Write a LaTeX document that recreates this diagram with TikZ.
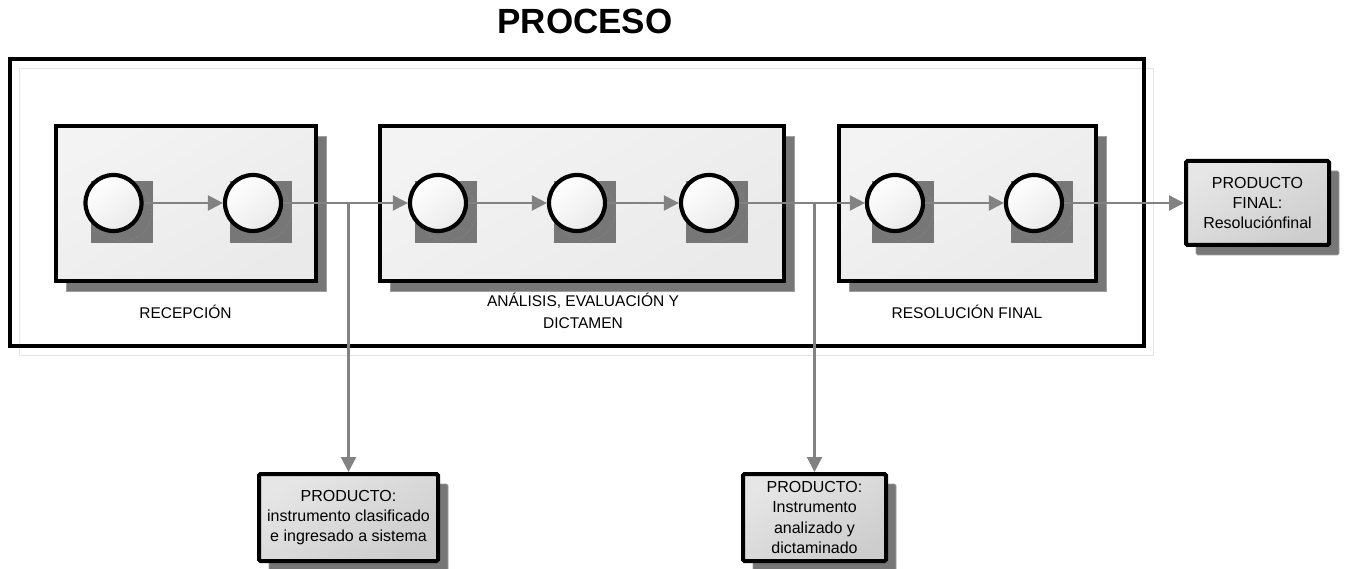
\documentclass[tikz,border=0pt]{standalone}
\usepackage{fontspec}
\setmainfont{Liberation Sans}
\usetikzlibrary{arrows.meta,shadows}

\definecolor{shadowgray}{HTML}{777777}
\definecolor{shadowedge}{HTML}{9E9E9E}
\definecolor{ringgray}{HTML}{959595}
\definecolor{conngray}{HTML}{828282}
\definecolor{stagefillA}{HTML}{F3F3F3}
\definecolor{stagefillB}{HTML}{EAEAEA}
\definecolor{prodfillA}{HTML}{E6E6E6}
\definecolor{prodfillB}{HTML}{CDCDCD}
\definecolor{faintline}{HTML}{E4E4E4}

\begin{document}
\begin{tikzpicture}[x=1pt,y=-1pt,
  outerframe/.style={rectangle, draw=black, line width=4pt, inner sep=0pt,
    drop shadow={shadow xshift=9pt, shadow yshift=-9pt, fill=white,
      draw=faintline, line width=0.6pt, opacity=1}},
  boxshadow/.style={drop shadow={shadow xshift=10pt, shadow yshift=-10pt,
      fill=shadowgray, draw=shadowedge, line width=0.6pt, opacity=1}},
  stagebox/.style={rectangle, draw=black, line width=4pt, inner sep=0pt,
    top color=stagefillA, bottom color=stagefillB, shading angle=30, boxshadow},
  prodbox/.style={rectangle, draw=black, line width=4pt, inner sep=0pt,
    rounded corners=1.5pt, top color=prodfillA, bottom color=prodfillB,
    shading angle=30, boxshadow, align=center,
    font=\fontsize{16}{20.3}\selectfont},
  stepcircle/.style={circle, draw=black, line width=4.2pt, minimum size=56pt,
    inner sep=0pt, top color=white, bottom color=stagefillB, shading angle=40},
  stagelabel/.style={font=\fontsize{15.5}{22.4}\selectfont, align=center},
  conn/.style={draw=conngray, line width=2.2pt,
    -{Triangle[length=15pt,width=15pt]}}
]
\useasboundingbox (0,0) rectangle (1346,569);

% title
\node[font=\fontsize{35}{40}\selectfont\bfseries, anchor=base] (title)
  at (585,33.5) {PROCESO};

% enclosing process frame
\node[outerframe, minimum width=1134pt, minimum height=287pt] (proc)
  at (577,202.5) {};

% the three stages
\node[stagebox, minimum width=260pt, minimum height=155pt] (recep) at (186,203.5) {};
\node[stagebox, minimum width=404pt, minimum height=155pt] (anal) at (582,203.5) {};
\node[stagebox, minimum width=257pt, minimum height=155pt] (resol) at (967.5,203.5) {};

% stage labels
\node[stagelabel, anchor=base] (lrecep) at (185.5,318.5) {RECEPCIÓN};
\node[stagelabel, anchor=base] (lresol) at (967,318.5) {RESOLUCIÓN FINAL};
\node[stagelabel] (lanal) at (583,311) {ANÁLISIS, EVALUACIÓN Y\\DICTAMEN};

% steps with their square shadows
\foreach \n/\x in {1/113.5,2/253,3/438,4/577,5/709,6/895,7/1034} {
  \fill[shadowgray] (\x-23,181) rectangle (\x+39,243);
  \draw[ringgray, line width=0.4pt, densely dotted] (\x+9,212) circle (29);
  \node[stepcircle] (c\n) at (\x,203) {};
}

% products
\node[prodbox, minimum width=143pt, minimum height=84pt] (fin) at (1257.5,203)
  {PRODUCTO\\FINAL:\\Resoluciónfinal};
\node[prodbox, minimum width=179pt, minimum height=87pt] (p1) at (348.5,517.5)
  {PRODUCTO:\\instrumento clasificado\\e ingresado a sistema};
\node[prodbox, minimum width=143pt, minimum height=87pt] (p2) at (814.5,517.5)
  {PRODUCTO:\\Instrumento\\analizado y\\dictaminado};

% flow
\draw[conn] (c1) -- (c2);
\draw[conn] (c2) -- (c3);
\draw[conn] (c3) -- (c4);
\draw[conn] (c4) -- (c5);
\draw[conn] (c5) -- (c6);
\draw[conn] (c6) -- (c7);
\draw[conn] (c7) -- (fin);

% branches to intermediate products
\coordinate (j1) at (348.5,203);
\coordinate (j2) at (814.5,203);
\draw[conn] (j1) -- (p1);
\draw[conn] (j2) -- (p2);
\end{tikzpicture}
\end{document}
